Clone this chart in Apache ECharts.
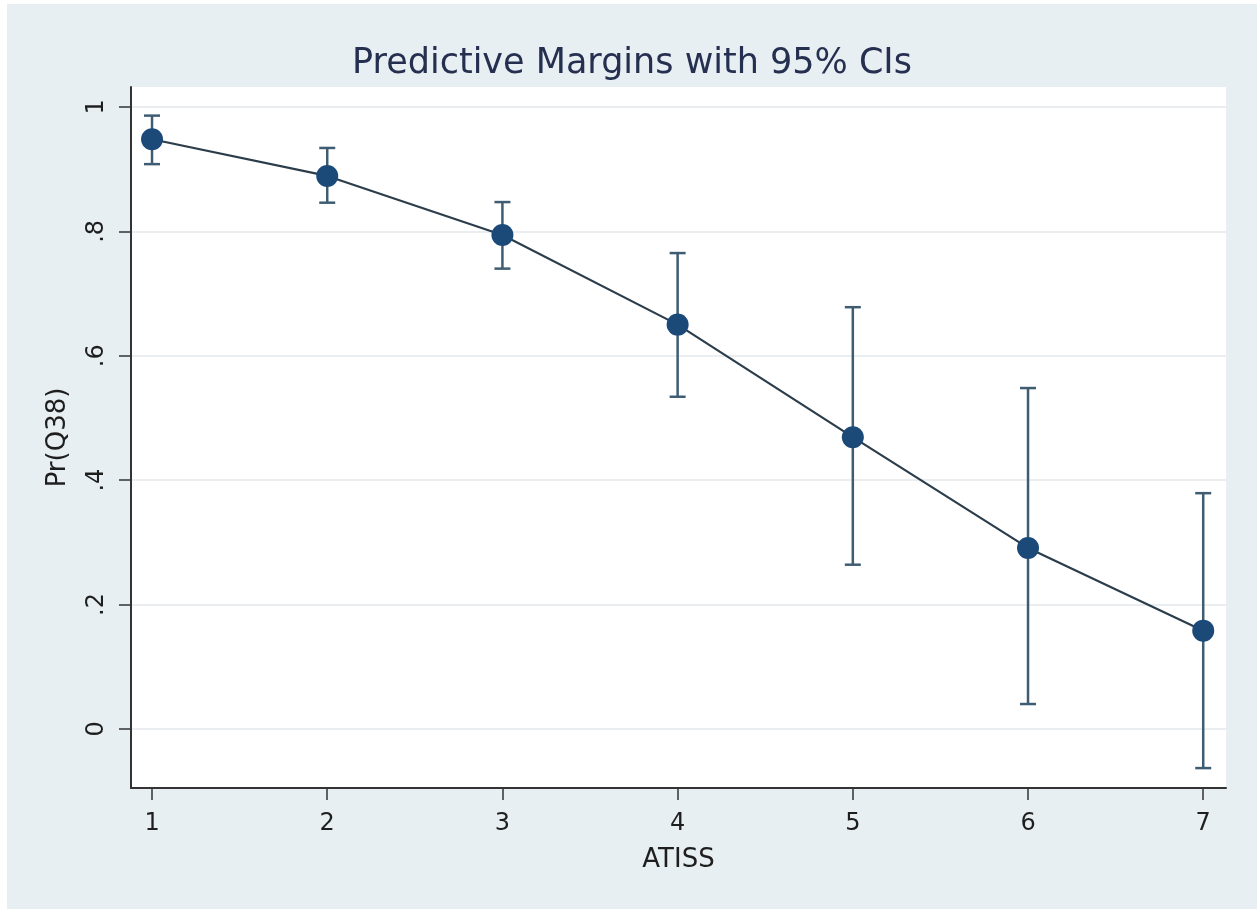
<!DOCTYPE html>
<html>
<head>
<meta charset="utf-8">
<script src="https://cdn.jsdelivr.net/npm/echarts@6/dist/echarts.min.js"></script>
<style>
  html, body { margin: 0; padding: 0; background: #ffffff; }
  #chart { position: absolute; left: 7px; top: 4px; width: 1250px; height: 905px; }
</style>
</head>
<body>
<div id="chart"></div>
<script>
// ATISS levels and predictive margins with 95% CIs
const atiss = [1, 2, 3, 4, 5, 6, 7];
const margin = [0.948, 0.889, 0.794, 0.650, 0.469, 0.291, 0.158];
const ciLower = [0.908, 0.846, 0.740, 0.534, 0.264, 0.040, -0.063];
const ciUpper = [0.986, 0.934, 0.847, 0.765, 0.678, 0.548, 0.379];

const yTicks = [0, 0.2, 0.4, 0.6, 0.8, 1];
const yTickLabels = ["0", ".2", ".4", ".6", ".8", "1"];
const xTicks = [1, 2, 3, 4, 5, 6, 7];

const chart = echarts.init(document.getElementById("chart"));

const font = "DejaVu Sans";
const lineColor = "#2b3d4b";
const markerColor = "#1b4a78";
const barColor = "#3f5d72";

const option = {
  backgroundColor: "#e8eff2",
  animation: false,
  title: {
    text: "Predictive Margins with 95% CIs",
    left: "center",
    top: 37,
    textStyle: {
      fontFamily: font,
      fontSize: 35,
      fontWeight: "normal",
      color: "#252f50",
    },
  },
  grid: {
    left: 124,
    right: 31,
    top: 83,
    bottom: 121,
    show: true,
    backgroundColor: "#ffffff",
    borderWidth: 0,
  },
  xAxis: {
    type: "value",
    min: 0.88,
    max: 7.13,
    name: "ATISS",
    nameLocation: "middle",
    nameGap: 59,
    nameTextStyle: { fontFamily: font, fontSize: 26, color: "#1e1e1e" },
    axisLine: { show: true, onZero: false, lineStyle: { color: "#333", width: 2 } },
    axisTick: { show: true, length: 12, customValues: xTicks, lineStyle: { color: "#333", width: 1.5 } },
    axisLabel: {
      customValues: xTicks,
      margin: 24,
      fontFamily: font,
      fontSize: 24,
      color: "#1e1e1e",
    },
    splitLine: { show: false },
  },
  yAxis: {
    type: "value",
    min: -0.095,
    max: 1.032,
    name: "Pr(Q38)",
    nameLocation: "middle",
    nameGap: 60,
    nameTextStyle: { fontFamily: font, fontSize: 26, color: "#1e1e1e" },
    axisLine: { show: true, onZero: false, lineStyle: { color: "#333", width: 2 } },
    axisTick: { show: true, length: 12, customValues: yTicks, lineStyle: { color: "#333", width: 1.5 } },
    axisLabel: {
      customValues: yTicks,
      rotate: 90,
      margin: 22,
      fontFamily: font,
      fontSize: 24,
      color: "#1e1e1e",
      formatter: function (v) {
        const i = yTicks.findIndex(t => Math.abs(t - v) < 1e-6);
        return i >= 0 ? yTickLabels[i] : "";
      },
    },
    splitLine: { show: false },
  },
  series: [
    {
      // horizontal grid lines at the y ticks
      type: "line",
      data: [],
      silent: true,
      z: 0,
      markLine: {
        symbol: "none",
        silent: true,
        z: 0,
        label: { show: false },
        lineStyle: { color: "#eaeef0", width: 2, type: "solid" },
        emphasis: { disabled: true },
        data: yTicks.map(v => ({ yAxis: v })),
      },
    },
    {
      type: "custom",
      name: "CI",
      data: atiss.map((x, i) => [x, ciLower[i], ciUpper[i]]),
      renderItem: function (params, api) {
        const lo = api.coord([api.value(0), api.value(1)]);
        const hi = api.coord([api.value(0), api.value(2)]);
        const cap = 8;
        const style = { stroke: barColor, lineWidth: 2.5 };
        return {
          type: "group",
          children: [
            { type: "line", shape: { x1: lo[0], y1: lo[1], x2: hi[0], y2: hi[1] }, style: style },
            { type: "line", shape: { x1: lo[0] - cap, y1: lo[1], x2: lo[0] + cap, y2: lo[1] }, style: style },
            { type: "line", shape: { x1: hi[0] - cap, y1: hi[1], x2: hi[0] + cap, y2: hi[1] }, style: style },
          ],
        };
      },
      z: 2,
    },
    {
      type: "line",
      name: "Margin",
      data: atiss.map((x, i) => [x, margin[i]]),
      symbol: "circle",
      symbolSize: 22,
      lineStyle: { color: lineColor, width: 2.2 },
      itemStyle: { color: markerColor },
      z: 3,
    },
  ],
};

chart.setOption(option);
</script>
</body>
</html>
